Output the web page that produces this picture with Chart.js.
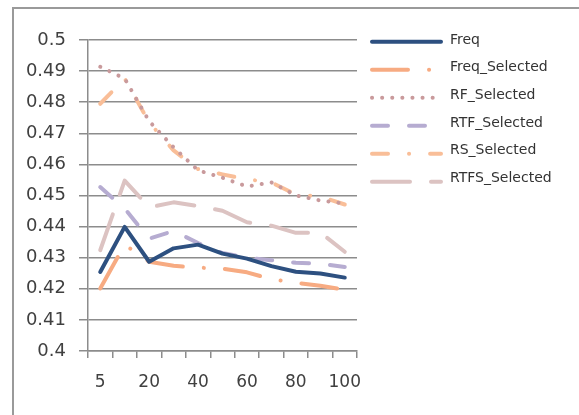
<!DOCTYPE html>
<html>
<head>
<meta charset="utf-8">
<script src="https://cdn.jsdelivr.net/npm/chart.js@4/dist/chart.umd.min.js"></script>
<style>
    html, body { margin: 0; padding: 0; background: #fff; }
    #wrap { position: relative; width: 579px; height: 415px; overflow: hidden; }
    #frame { position: absolute; left: 12px; top: 7px; width: 700px; height: 500px;
             border-left: 2px solid #9a9a9a; border-top: 2px solid #9a9a9a; }
    #chart { position: absolute; left: 0; top: 0; }
</style>
</head>
<body>
<div id="wrap">
    <div id="frame"></div>
    <canvas id="chart" width="579" height="415"></canvas>
</div>
<script>
// categories (number of selected features)
const categories = ["5", "10", "20", "30", "40", "50", "60", "70", "80", "90", "100"];
const shownLabels = ["5", "20", "40", "60", "80", "100"];

// series values
const freq          = [0.4254, 0.4399, 0.4287, 0.4330, 0.4342, 0.4313, 0.4297, 0.4273, 0.4255, 0.4249, 0.4236];
const freqSelected  = [0.4201, 0.4342, 0.4287, 0.4274, 0.4268, 0.4265, 0.4253, 0.4231, 0.4219, 0.4210, 0.4197];
const rfSelected    = [0.4914, 0.4876, 0.4739, 0.4655, 0.4581, 0.4557, 0.4529, 0.4542, 0.4500, 0.4484, 0.4474];
const rtfSelected   = [0.4527, 0.4458, 0.4361, 0.4386, 0.4347, 0.4315, 0.4300, 0.4292, 0.4284, 0.4281, 0.4270];
const rsSelected    = [0.4795, 0.4876, 0.4735, 0.4645, 0.4585, 0.4568, 0.4552, 0.4542, 0.4503, 0.4497, 0.4471];
const rtfsSelected  = [0.4324, 0.4548, 0.4462, 0.4478, 0.4466, 0.4451, 0.4414, 0.4403, 0.4380, 0.4381, 0.4319];

// y axis ticks
const yMin = 0.4;
const yMax = 0.5;
const yStep = 0.01;

const seriesNames = ["Freq", "Freq_Selected", "RF_Selected", "RTF_Selected", "RS_Selected", "RTFS_Selected"];

function line(label, data, color, dash) {
    return {
        label: label,
        data: data,
        borderColor: color,
        backgroundColor: color,
        borderWidth: 4,
        borderDash: dash,
        borderCapStyle: "round",
        borderJoinStyle: "round",
        pointRadius: 0,
        pointHoverRadius: 0,
        tension: 0,
        fill: false
    };
}

// legend drawn on the right, like the original
const sideLegend = {
    id: "sideLegend",
    afterDraw(chart) {
        const ctx = chart.ctx;
        ctx.save();
        chart.data.datasets.forEach((ds, i) => {
            const ly = 41.7 + i * 28;
            ctx.beginPath();
            ctx.strokeStyle = ds.borderColor;
            ctx.lineWidth = ds.borderWidth;
            ctx.lineCap = "round";
            ctx.setLineDash(ds.borderDash || []);
            ctx.moveTo(372, ly);
            ctx.lineTo(441, ly);
            ctx.stroke();
            ctx.setLineDash([]);
            ctx.fillStyle = "#333";
            ctx.font = "14px 'DejaVu Sans'";
            ctx.textBaseline = "middle";
            ctx.fillText(ds.label, 450, 40 + i * 27.7);
        });
        ctx.restore();
    }
};

new Chart(document.getElementById("chart").getContext("2d"), {
    type: "line",
    data: {
        labels: categories,
        datasets: [
            line(seriesNames[0], freq, "#2d5080", []),
            line(seriesNames[1], freqSelected, "#f7ab82", [36, 21, 0.1, 21]),
            line(seriesNames[2], rfSelected, "#c99a9c", [0.1, 10]),
            line(seriesNames[3], rtfSelected, "#b6acd1", [16, 21]),
            line(seriesNames[4], rsSelected, "#f9be98", [16, 21, 0.1, 21]),
            line(seriesNames[5], rtfsSelected, "#dcc3c2", [38, 21])
        ]
    },
    options: {
        responsive: false,
        animation: false,
        layout: { padding: { left: 0, top: 40, right: 222, bottom: 0 } },
        plugins: {
            legend: { display: false },
            tooltip: { enabled: false }
        },
        scales: {
            x: {
                offset: true,
                grid: { offset: true, drawOnChartArea: false, drawTicks: true, tickLength: 7, color: "#8c8c8c", lineWidth: 1.5 },
                border: { color: "#8c8c8c", width: 1.5 },
                ticks: {
                    autoSkip: false,
                    maxRotation: 0,
                    padding: 14,
                    color: "#404040",
                    font: { family: "'DejaVu Sans'", size: 17 },
                    callback: function (v, i) {
                        const lab = categories[i];
                        return shownLabels.includes(lab) ? lab : "";
                    }
                },
                afterFit: s => { s.height = 64; }
            },
            y: {
                min: yMin,
                max: yMax,
                grid: { color: "#8c8c8c", lineWidth: 1.5, tickLength: 9 },
                border: { color: "#8c8c8c", width: 1.5 },
                ticks: {
                    stepSize: yStep,
                    padding: 13,
                    color: "#404040",
                    font: { family: "'DejaVu Sans'", size: 18 },
                    callback: v => String(Math.round(v * 100) / 100)
                },
                afterFit: s => { s.width = 88; }
            }
        }
    },
    plugins: [sideLegend]
});
</script>
</body>
</html>
